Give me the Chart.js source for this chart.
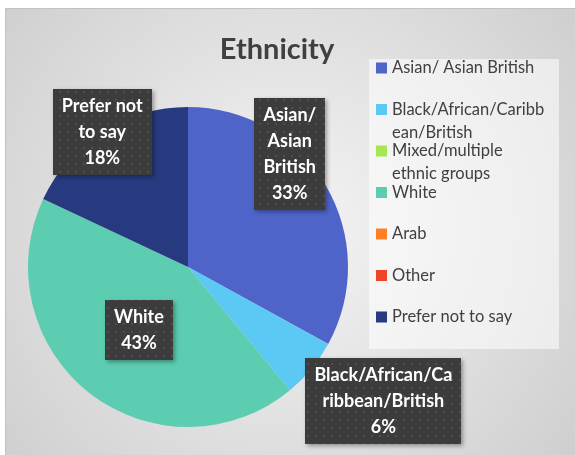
<!DOCTYPE html>
<html>
<head>
<meta charset="utf-8">
<script src="https://cdn.jsdelivr.net/npm/chart.js@4.4.0/dist/chart.umd.min.js"></script>
<style>
	html, body { margin: 0; padding: 0; background: #fff; }
	#chart { display: block; }
</style>
</head>
<body>
<canvas id="chart" width="575" height="455"></canvas>
<script>
// data (percent of respondents)
const categories = ['Asian/ Asian British', 'Black/African/Caribbean/British', 'Mixed/multiple ethnic groups', 'White', 'Arab', 'Other', 'Prefer not to say'];
const percentages = [33, 6, 0, 43, 0, 0, 18];
const sliceColors = ['#4f64c8', '#5cc9f5', '#a6e651', '#5ccdb1', '#fd8026', '#ef4328', '#273a80'];

// wrapped text as it shows in the legend and in the data labels
const legendLines = [['Asian/ Asian British'], ['Black/African/Caribb', 'ean/British'], ['Mixed/multiple', 'ethnic groups'], ['White'], ['Arab'], ['Other'], ['Prefer not to say']];
const labelLines = [['Asian/', 'Asian', 'British'], ['Black/African/Ca', 'ribbean/British'], [], ['White'], [], [], ['Prefer not', 'to say']];

// where each data label sits: angle clockwise from top (null = middle of slice), radius factor
const labelPlace = [{ a: 42, r: 0.95 }, { a: 124.4, r: 1.48 }, null, { a: null, r: 0.5 }, null, null, { a: null, r: 1.0 }];

const FONT = 'Lato, "Open Sans", sans-serif';

function dotPattern(ctx) {
	let c = document.createElement('canvas');
	c.width = 8; c.height = 8;
	let p = c.getContext('2d');
	p.fillStyle = '#3c3c3c';
	p.fillRect(0, 0, 8, 8);
	p.fillStyle = '#4e4e4e';
	p.fillRect(3, 3, 2, 2);
	return ctx.createPattern(c, 'repeat');
}

let backgroundPlugin = {
	id: 'background',
	beforeDraw: function (chart) {
		let ctx = chart.ctx;
		ctx.save();
		ctx.fillStyle = '#fff';
		ctx.fillRect(0, 0, chart.width, chart.height);
		let g = ctx.createRadialGradient(285, 230, 0, 285, 230, 420);
		g.addColorStop(0, '#f5f5f5');
		g.addColorStop(1, '#c9c9c9');
		ctx.fillStyle = g;
		ctx.fillRect(5, 8, chart.width - 5, chart.height - 8);
		ctx.strokeStyle = '#c2c2c2';
		ctx.lineWidth = 1;
		ctx.beginPath();
		ctx.moveTo(5.5, chart.height);
		ctx.lineTo(5.5, 8.5);
		ctx.lineTo(chart.width, 8.5);
		ctx.stroke();

		// title
		ctx.fillStyle = '#404040';
		ctx.font = 'bold 29px ' + FONT;
		ctx.textAlign = 'center';
		ctx.textBaseline = 'middle';
		ctx.fillText('Ethnicity', 277, 50);
		ctx.restore();
	}
};

let legendPlugin = {
	id: 'sideLegend',
	afterDraw: function (chart) {
		let ctx = chart.ctx;
		let ds = chart.data.datasets[0];
		ctx.save();
		ctx.fillStyle = 'rgba(255,255,255,0.55)';
		ctx.fillRect(369, 59, 190, 290);
		ctx.font = '16.5px ' + FONT;
		ctx.textAlign = 'left';
		ctx.textBaseline = 'middle';
		chart.data.labels.forEach(function (label, i) {
			let y = 68 + i * 41.5;
			ctx.fillStyle = ds.backgroundColor[i];
			ctx.fillRect(376, y - 5.5, 11, 11);
			ctx.fillStyle = '#404040';
			legendLines[i].forEach(function (line, j) {
				ctx.fillText(line, 392, y + j * 23);
			});
		});
		ctx.restore();
	}
};

let labelPlugin = {
	id: 'boxLabels',
	afterDatasetsDraw: function (chart) {
		let ctx = chart.ctx;
		let meta = chart.getDatasetMeta(0);
		let pattern = dotPattern(ctx);
		ctx.save();
		ctx.font = 'bold 18px ' + FONT;
		ctx.textAlign = 'center';
		ctx.textBaseline = 'middle';
		meta.data.forEach(function (arc, i) {
			let place = labelPlace[i];
			if (!place || !percentages[i]) return;
			let mid = (arc.startAngle + arc.endAngle) / 2;
			let ang = place.a === null ? mid : -Math.PI / 2 + place.a * Math.PI / 180;
			let cx = arc.x + Math.cos(ang) * arc.outerRadius * place.r;
			let cy = arc.y + Math.sin(ang) * arc.outerRadius * place.r;
			let lines = labelLines[i].concat([percentages[i] + '%']);
			let lineH = 26;
			let w = Math.max.apply(null, lines.map(l => ctx.measureText(l).width)) + 18;
			let h = lines.length * lineH + 8;
			ctx.save();
			ctx.shadowColor = 'rgba(0,0,0,0.35)';
			ctx.shadowBlur = 4;
			ctx.shadowOffsetX = 2;
			ctx.shadowOffsetY = 2;
			ctx.fillStyle = pattern;
			ctx.fillRect(Math.round(cx - w / 2), Math.round(cy - h / 2), Math.round(w), Math.round(h));
			ctx.restore();
			ctx.fillStyle = '#ffffff';
			lines.forEach(function (line, j) {
				ctx.fillText(line, cx, cy - h / 2 + 4 + lineH * (j + 0.5));
			});
		});
		ctx.restore();
	}
};

new Chart(document.getElementById('chart'), {
	type: 'pie',
	data: {
		labels: categories,
		datasets: [{
			data: percentages,
			backgroundColor: sliceColors,
			borderWidth: 0
		}]
	},
	options: {
		responsive: false,
		animation: false,
		layout: { padding: { left: 28, right: 227, top: 107, bottom: 28 } },
		plugins: {
			legend: { display: false },
			title: { display: false },
			tooltip: { enabled: false }
		}
	},
	plugins: [backgroundPlugin, legendPlugin, labelPlugin]
});
</script>
</body>
</html>
